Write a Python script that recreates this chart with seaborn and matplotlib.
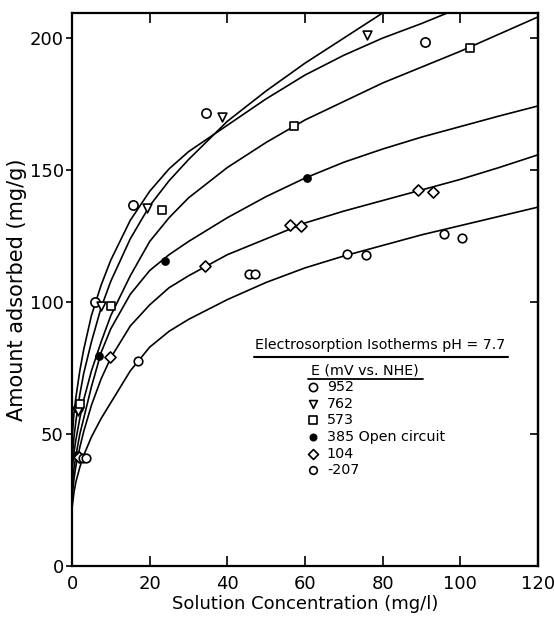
import numpy as np
import pandas as pd
import matplotlib
matplotlib.use("Agg")
import matplotlib.pyplot as plt
import seaborn as sns

# electrode potentials (mV vs NHE)
series_labels = ["952", "762", "573", "385 Open circuit", "104", "-207"]

x_952 = [1.5, 6.0, 15.6, 34.4, 90.8]
y_952 = [60.0, 100.1, 136.7, 171.8, 198.6]
x_762 = [1.6, 7.5, 19.2, 38.5, 75.9]
y_762 = [59.0, 98.4, 135.5, 170.1, 201.1]
x_573 = [2.0, 10.1, 23.1, 57.1, 102.4]
y_573 = [61.5, 98.4, 134.8, 166.9, 196.1]
x_385 = [1.2, 7.0, 23.9, 60.5]
y_385 = [42.0, 79.5, 115.6, 147.2]
x_104 = [1.8, 9.7, 34.2, 56.2, 59.0, 89.2, 92.9]
y_104 = [41.5, 79.1, 113.7, 129.4, 128.8, 142.4, 141.6]
x_m207 = [2.8, 3.6, 16.9, 45.7, 47.2, 70.9, 75.6, 95.9, 100.4]
y_m207 = [41.0, 41.0, 77.8, 110.6, 110.6, 118.1, 117.7, 126.0, 124.5]

# fitted isotherm curves
cx = [0, 0.5, 1, 2, 3, 5, 7.5, 10, 15, 20, 25, 30, 40, 50, 60, 70, 80, 90, 100, 110, 120]
cy_952 = [48, 58, 64, 74, 82, 95, 106.5, 116, 131, 142, 150.5, 157, 167, 177, 186, 193.5, 200, 205.5, 211.5, 217, 222]
cy_762 = [40, 49, 55, 65, 73, 85, 98, 108, 124, 136.5, 146, 154, 168.5, 180, 190.5, 200, 209.5, 218, 226, 233, 240]
cy_573 = [36, 43, 48, 56, 63, 74, 85, 95, 110, 123, 132, 139.5, 151, 160.5, 169, 176, 183, 189, 195, 201.5, 208]
cy_385 = [30, 37, 42, 50, 56, 68, 81, 90, 103, 112, 118, 123, 132, 140, 147, 153, 158, 162.5, 166.5, 170.5, 174.3]
cy_104 = [26, 33, 38, 45, 51, 61, 71, 79, 91, 99, 105.5, 110, 118, 124, 130, 134.5, 138.5, 142.5, 146.5, 151, 155.8]
cy_m207 = [22, 28, 32, 37.5, 42, 49, 56, 62, 74, 83, 89, 93.5, 101, 107.5, 113, 117.5, 121.5, 125.5, 129, 132.5, 136]

x_ticks = [0, 20, 40, 60, 80, 100, 120]
y_ticks = [0, 50, 100, 150, 200]

sns.set_theme(style="ticks")
plt.rcParams["font.family"] = ["DejaVu Sans"]
plt.rcParams.update({"text.color": "black", "axes.labelcolor": "black",
                     "xtick.color": "black", "ytick.color": "black",
                     "axes.edgecolor": "black"})

fig = plt.figure(figsize=(5.54, 6.19), dpi=100)
ax = fig.add_axes([0.130, 0.085, 0.841, 0.894])

marker_styles = [
    ("o", "white", 44),
    ("v", "white", 40),
    ("s", "white", 40),
    ("o", "black", 26),
    ("D", "white", 32),
    ("o", "white", 38),
]
points = [(x_952, y_952), (x_762, y_762), (x_573, y_573),
          (x_385, y_385), (x_104, y_104), (x_m207, y_m207)]
curves = [cy_952, cy_762, cy_573, cy_385, cy_104, cy_m207]

for cy in curves:
    sns.lineplot(x=cx, y=cy, ax=ax, color="black", linewidth=1.2,
                 estimator=None, sort=False)

for (px, py), (mk, fc, sz) in zip(points, marker_styles):
    sns.scatterplot(x=px, y=py, ax=ax, marker=mk, s=sz, facecolor=fc,
                    edgecolor="black", linewidth=1.2, zorder=5)

ax.set_xlim(0, 120)
ax.set_ylim(0, 209.5)
ax.set_xticks(x_ticks)
ax.set_yticks(y_ticks)
ax.tick_params(axis="x", direction="in", top=True, length=7, width=1.2,
               labelsize=13, pad=6)
ax.tick_params(axis="y", direction="out", length=4.5, width=1.2,
               labelsize=13, pad=1.5)
for sp in ax.spines.values():
    sp.set_linewidth(1.6)
    sp.set_color("black")

sec = ax.secondary_yaxis("right")
sec.set_yticks(y_ticks)
sec.tick_params(direction="in", length=6, width=1.2, labelright=False)
sec.spines["right"].set_linewidth(1.6)

ax.set_xlabel("Solution Concentration (mg/l)", fontsize=13, labelpad=2)
ax.set_ylabel("Amount adsorbed (mg/g)", fontsize=15, labelpad=2)

# key block
kfs = 10.3
ax.text(0.661, 0.40, "Electrosorption Isotherms pH = 7.7", transform=ax.transAxes,
        ha="center", va="center", fontsize=kfs)
ax.plot([0.391, 0.936], [0.378, 0.378], transform=ax.transAxes,
        color="black", linewidth=1.5, clip_on=False)
ax.text(0.629, 0.354, "E (mV vs. NHE)", transform=ax.transAxes,
        ha="center", va="center", fontsize=kfs)
ax.plot([0.506, 0.753], [0.338, 0.338], transform=ax.transAxes,
        color="black", linewidth=1.3, clip_on=False)

row_y = [0.3237, 0.2937, 0.2637, 0.2336, 0.2036, 0.1736]
for lab, ry, (mk, fc, sz) in zip(series_labels, row_y, marker_styles):
    ax.scatter([0.517], [ry], transform=ax.transAxes, marker=mk, s=sz * 0.8,
               facecolor=fc, edgecolor="black", linewidth=1.2, clip_on=False)
    ax.text(0.547, ry, lab, transform=ax.transAxes, ha="left", va="center",
            fontsize=kfs)

fig.savefig("out.png", dpi=100)
